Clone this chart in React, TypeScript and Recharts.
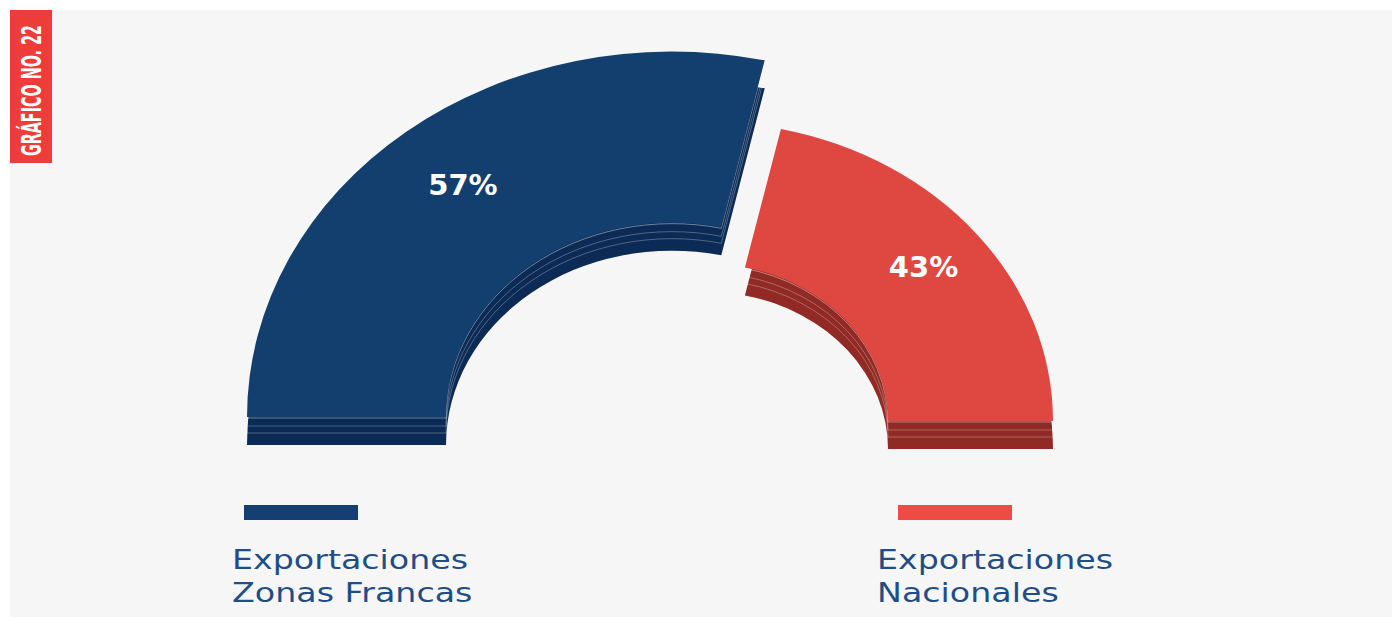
import { PieChart, Pie, Cell, Legend } from 'recharts';

const categories = ['Exportaciones Zonas Francas', 'Exportaciones Nacionales'];
const shares = [57, 43];
const legendLines = [
  ['Exportaciones', 'Zonas Francas'],
  ['Exportaciones', 'Nacionales'],
];
const title = 'GRÁFICO NO. 22';

// look of each slice (tilted half doughnut, exploded)
const FACE = ['#123f6e', '#df4741'];
const SIDE = ['#0b2a55', '#912a25'];
const KEY = ['#143f70', '#ef4b45'];
const GEO = [
  { cx: 672, cy: 417, r0: 226, r1: 425 },
  { cx: 705, cy: 421, r0: 183, r1: 348 },
];
const LEGEND_X = [232, 877];
const KEY_X = [244, 898];
const SQ = 0.86; // vertical squash of the tilt
const DEPTH = 28;
const STRIPES = [1, 9, 16];

const W = 1392;
const H = 617;

const total = shares.reduce((a, b) => a + b, 0);
const angles = shares.map((v, i) => {
  const before = shares.slice(0, i).reduce((a, b) => a + b, 0);
  return {
    start: 180 - (180 * before) / total,
    end: 180 - (180 * (before + v)) / total,
  };
});

const shifts = [0, DEPTH, ...STRIPES];
const css = GEO.map((g, i) =>
  shifts
    .map(
      (s) =>
        `g.recharts-pie.pz-${i}-${s}{transform:translate(0px,${g.cy + s}px) scale(1,${SQ}) translate(0px,${-g.cy}px);}`
    )
    .join('')
).join('');

const pctLabel = (i: number) => (props: any) => {
  const g = GEO[i];
  const mid = (props.midAngle * Math.PI) / 180;
  const r = (g.r0 + g.r1) / 2 + 12;
  const x = g.cx + r * Math.cos(mid);
  const y = g.cy - r * Math.sin(mid) * SQ;
  return (
    <text
      x={x + 2}
      y={y - 5}
      fill="#ffffff"
      textAnchor="middle"
      dominantBaseline="central"
      fontFamily="'DejaVu Sans', sans-serif"
      fontWeight={700}
      fontSize={29}
    >
      {`${props.value}%`}
    </text>
  );
};

const LegendBlock = () => (
  <svg width={W} height={120} style={{ display: 'block' }}>
    {legendLines.map((lines, i) => (
      <g key={categories[i]}>
        <rect x={KEY_X[i]} y={8} width={114} height={15} fill={KEY[i]} />
        {lines.map((ln, k) => (
          <text
            key={ln}
            transform={`translate(${LEGEND_X[i]},${72 + k * 33}) scale(1.28,1)`}
            fill="#1f4e86"
            fontFamily="'DejaVu Sans', sans-serif"
            fontSize={26}
          >
            {ln}
          </text>
        ))}
      </g>
    ))}
  </svg>
);

export default function App() {
  const slices = shares.map((v, i) => ({ name: categories[i], value: v }));

  return (
    <div style={{ position: 'absolute', left: 0, top: 0, width: W, height: H, overflow: 'hidden' }}>
      <style>{css}</style>
      <div style={{ position: 'absolute', left: 10, top: 10, width: W - 10, height: H - 10, background: '#f6f6f6' }} />
      <div style={{ position: 'absolute', left: 0, top: 0 }}>
        <PieChart width={W} height={H} margin={{ top: 0, right: 0, bottom: 0, left: 0 }}>
          {slices.map((d, i) => [
            <Pie
              key={`side-${i}`}
              className={`pz-${i}-${DEPTH}`}
              data={[d]}
              dataKey="value"
              nameKey="name"
              cx={GEO[i].cx}
              cy={GEO[i].cy}
              innerRadius={GEO[i].r0}
              outerRadius={GEO[i].r1}
              startAngle={angles[i].start}
              endAngle={angles[i].end}
              stroke="none"
              legendType="none"
              isAnimationActive={false}
            >
              <Cell fill={SIDE[i]} />
            </Pie>,
            ...STRIPES.map((s, k) => (
              <Pie
                key={`stripe-${i}-${s}`}
                className={`pz-${i}-${s}`}
                data={[d]}
                dataKey="value"
                nameKey="name"
                cx={GEO[i].cx}
                cy={GEO[i].cy}
                innerRadius={GEO[i].r0}
                outerRadius={GEO[i].r1}
                startAngle={angles[i].start}
                endAngle={angles[i].end}
                fill="none"
                stroke={k === 0 ? 'rgba(255,255,255,0.45)' : 'rgba(255,255,255,0.3)'}
                strokeWidth={1}
                legendType="none"
                isAnimationActive={false}
              />
            )),
            <Pie
              key={`face-${i}`}
              className={`pz-${i}-0`}
              data={[d]}
              dataKey="value"
              nameKey="name"
              cx={GEO[i].cx}
              cy={GEO[i].cy}
              innerRadius={GEO[i].r0}
              outerRadius={GEO[i].r1}
              startAngle={angles[i].start}
              endAngle={angles[i].end}
              stroke="none"
              isAnimationActive={false}
            >
              <Cell fill={FACE[i]} />
            </Pie>,
            <Pie
              key={`label-${i}`}
              data={[d]}
              dataKey="value"
              nameKey="name"
              cx={GEO[i].cx}
              cy={GEO[i].cy}
              innerRadius={GEO[i].r0}
              outerRadius={GEO[i].r1}
              startAngle={angles[i].start}
              endAngle={angles[i].end}
              fill="none"
              stroke="none"
              legendType="none"
              label={pctLabel(i)}
              labelLine={false}
              isAnimationActive={false}
            />,
          ])}
          <Legend
            verticalAlign="bottom"
            content={() => <LegendBlock />}
            wrapperStyle={{ position: 'absolute', left: 0, top: 497, width: W, height: 120 }}
          />
        </PieChart>
      </div>
      <svg style={{ position: 'absolute', left: 0, top: 0, overflow: 'visible' }} width={80} height={180}>
        <rect x={10} y={10} width={42} height={153} fill="#ee3d39" />
        <text
          transform="translate(41,156) rotate(-90) scale(0.59,1)"
          fill="#ffffff"
          fontFamily="'Liberation Sans Narrow', 'DejaVu Sans Condensed', sans-serif"
          fontWeight={700}
          fontSize={27}
        >
          {title}
        </text>
      </svg>
    </div>
  );
}
